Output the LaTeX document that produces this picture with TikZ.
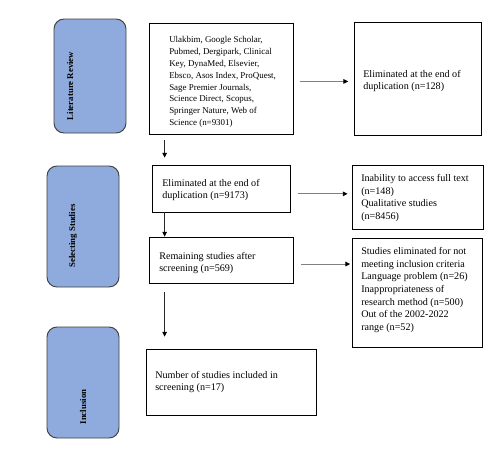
\documentclass[tikz,border=0pt]{standalone}
\usepackage{fontspec}
\setmainfont{Liberation Serif}
\usetikzlibrary{arrows.meta}
\definecolor{stageblue}{RGB}{143,170,220}
\definecolor{stageedge}{RGB}{64,64,64}
\definecolor{linegray}{RGB}{128,128,128}
\tikzset{
  stagebox/.style={draw=stageedge, line width=0.7pt, fill=stageblue, rounded corners=7.5pt, inner sep=0pt},
  stagelabel/.style={rotate=90, font=\fontsize{6.6}{8}\selectfont\bfseries, inner sep=0pt},
  whitebox/.style={draw=black, line width=0.6pt, fill=white, inner sep=0pt},
  boxtext/.style={anchor=west, align=left, inner sep=0pt, font=\fontsize{7.6}{9.4}\selectfont},
  dbtext/.style={boxtext, font=\fontsize{6.7}{8.9}\selectfont},
  harrow/.style={draw=linegray, line width=0.7pt, -{Triangle[length=3.6pt,width=3.4pt,color=black]}},
  varrow/.style={draw=black!85, line width=0.6pt, -{Triangle[length=3.6pt,width=3.4pt,color=black]}}
}
\begin{document}
\begin{tikzpicture}[x=0.75pt,y=-0.75pt]
\useasboundingbox[fill=white] (0,0) rectangle (503,451);

% stage boxes
\node[stagebox, minimum width=54pt, minimum height=85.5pt] (lit) at (90,76) {};
\node[stagebox, minimum width=54pt, minimum height=90.75pt] (sel) at (83,226.5) {};
\node[stagebox, minimum width=54pt, minimum height=83.25pt] (inc) at (83,382.5) {};
\node[stagelabel] (litl) at (70,86) {Literature Review};
\node[stagelabel] (sell) at (73,236) {Selecting Studies};
\node[stagelabel] (incl) at (83,407) {Inclusion};

% white boxes
\node[whitebox, minimum width=108pt, minimum height=83.25pt] (db) at (221,78.5) {};
\node[whitebox, minimum width=95.25pt, minimum height=84.75pt] (e128) at (417.5,78.5) {};
\node[whitebox, minimum width=103.5pt, minimum height=35.25pt] (e9173) at (221,188.5) {};
\node[whitebox, minimum width=108pt, minimum height=34.5pt] (rem) at (221,260) {};
\node[whitebox, minimum width=98.25pt, minimum height=48pt] (inab) at (417.5,197) {};
\node[whitebox, minimum width=97.5pt, minimum height=81.75pt] (stud) at (417,292.5) {};
\node[whitebox, minimum width=127.5pt, minimum height=49.5pt] (num) at (231,382) {};

% texts
\node[dbtext] (dbt) at (169,82) {Ulakbim, Google Scholar,\\Pubmed, Dergipark, Clinical\\Key, DynaMed, Elsevier,\\Ebsco, Asos Index, ProQuest,\\Sage Premier Journals,\\Science Direct, Scopus,\\Springer Nature, Web of\\Science (n=9301)};
\node[boxtext] (e128t) at (363,81) {Eliminated at the end of\\duplication (n=128)};
\node[boxtext] (e9173t) at (162,190) {Eliminated at the end of\\duplication (n=9173)};
\node[boxtext] (remt) at (159,263) {Remaining studies after\\screening (n=569)};
\node[boxtext] (inabt) at (361,198) {Inability to access full text\\(n=148)\\Qualitative studies\\(n=8456)};
\node[boxtext] (studt) at (361,290) {Studies eliminated for not\\meeting inclusion criteria\\Language problem (n=26)\\Inappropriateness of\\research method (n=500)\\Out of the 2002-2022\\range (n=52)};
\node[boxtext] (numt) at (155,382) {Number of studies included in\\screening (n=17)};

% horizontal connectors
\draw[harrow, shorten <=5pt, shorten >=4pt] ([yshift=-2.2pt]db.east) -- ([yshift=-2.2pt]db.east -| e128.west);
\draw[harrow, shorten <=6pt, shorten >=3pt] ([yshift=-4pt]e9173.east) -- ([yshift=-4pt]e9173.east -| inab.west);
\draw[harrow, shorten <=6pt, shorten >=1pt] ([yshift=-3pt]rem.east) -- ([yshift=-3pt]rem.east -| stud.west);

% vertical connectors
\draw[varrow, shorten <=4.5pt, shorten >=5.25pt] ([xshift=12pt]db.south west) -- ([xshift=12pt]db.south west |- e9173.north);
\draw[varrow] ([xshift=9.75pt]e9173.south west) -- ([xshift=9.75pt]e9173.south west |- rem.north);
\draw[varrow, shorten <=6.75pt, shorten >=9pt] ([xshift=12pt]rem.south west) -- ([xshift=12pt]rem.south west |- num.north);
\end{tikzpicture}
\end{document}
